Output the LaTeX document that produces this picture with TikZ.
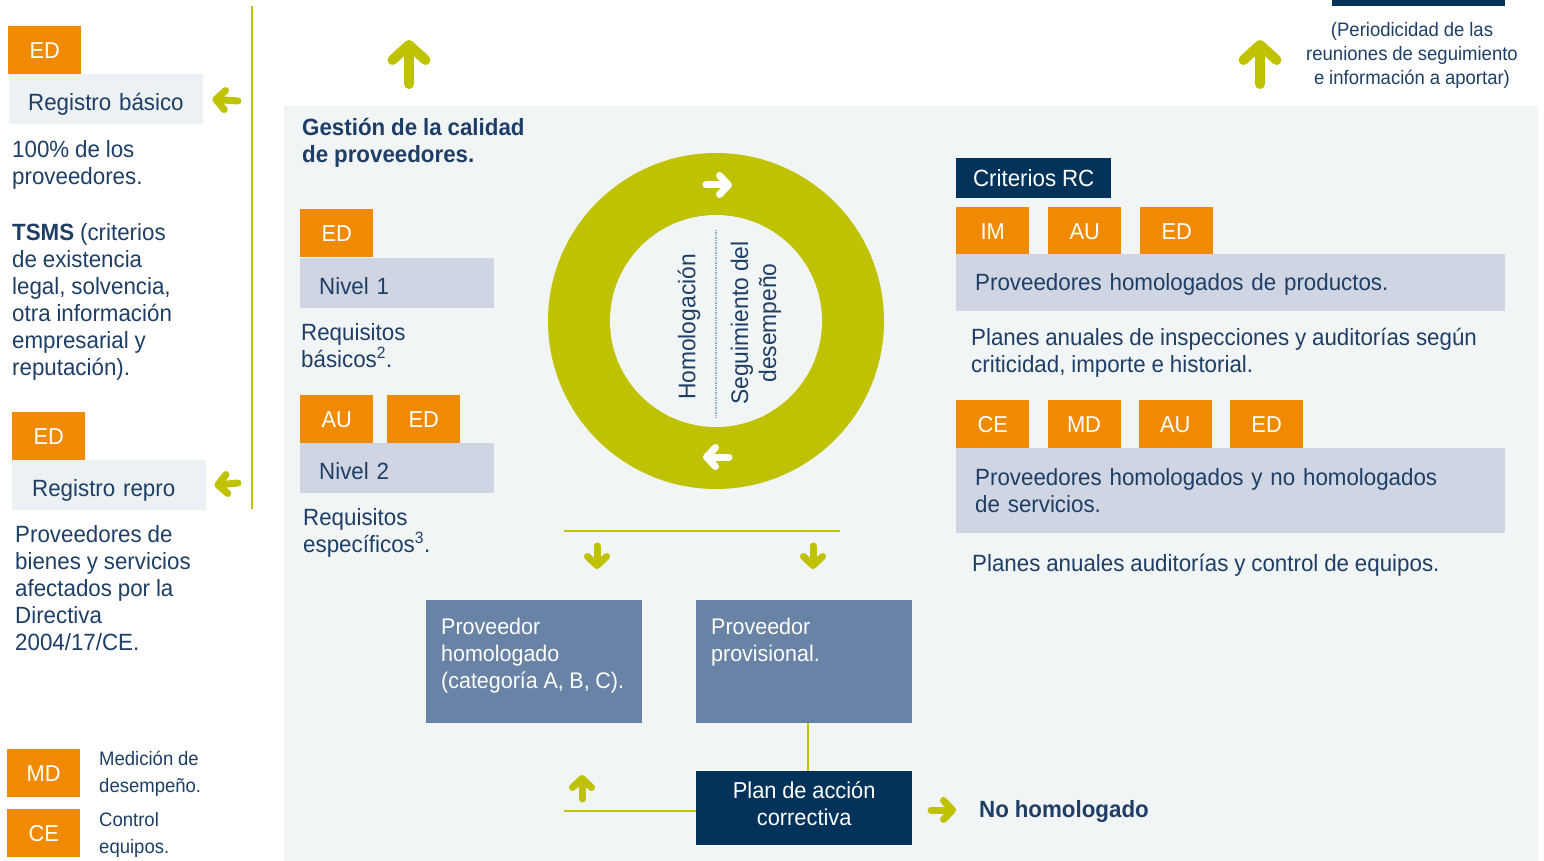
\documentclass[tikz,border=0pt]{standalone}
\usepackage{fontspec}
\setmainfont[FakeStretch=0.95,WordSpace=0.95]{Liberation Sans}
\usetikzlibrary{arrows.meta}

\definecolor{tagorange}{RGB}{240,138,0}
\definecolor{lime}{RGB}{191,194,0}
\definecolor{navy}{RGB}{0,50,90}
\definecolor{steel}{RGB}{104,131,165}
\definecolor{lilac}{RGB}{207,213,226}
\definecolor{panel}{RGB}{242,245,246}
\definecolor{pale}{RGB}{236,241,243}
\definecolor{ink}{RGB}{30,62,102}
\definecolor{dotline}{RGB}{150,175,195}

\newcommand{\fsz}[2]{\fontsize{#1}{#2}\selectfont}

\begin{document}
\begin{tikzpicture}[x=1pt,y=-1pt,
  tag/.style={fill=tagorange,text=white,anchor=north west,minimum width=73pt,
    minimum height=48pt,inner sep=0pt,font=\fsz{23}{27}},
  bar/.style={anchor=north west,minimum height=50pt,text width=#1,inner xsep=19pt,
    inner ysep=0pt,align=left,text=ink,font=\fsz{23.5}{27}},
  oneline/.style={text height=#1,text depth=0pt},
  body/.style={anchor=north west,inner sep=0pt,align=left,text=ink,font=\fsz{23.5}{27}},
  note/.style={anchor=north west,inner sep=0pt,align=left,text=ink,font=\fsz{19.5}{27}},
  steelbox/.style={fill=steel,text=white,anchor=north west,inner xsep=15pt,inner ysep=0pt,
    font=\fsz{22.6}{27}},
  bigarrow/.style={draw=lime,line width=10pt,line cap=round,
    -{Straight Barb[round,length=15pt,width=33pt]}},
  arr/.style={draw=lime,line width=7pt,line cap=round,
    -{Straight Barb[round,length=9pt,width=19pt]}},
  link/.style={draw=lime,line width=2pt}]
  \useasboundingbox (0,0) rectangle (1544,861);
  \fill[panel] (284,106) rectangle (1538,861);
  \fill[navy] (1332,0) rectangle (1505,6);

  % left column
  \draw[link] (252,6) -- (252,509);
  \node[tag] (ed1) at (8,26) {ED};
  \node[bar=156pt,oneline=22pt,fill=pale] (basico) at (9,74) {Registro básico};
  \draw[arr] (238,101) -- ([xshift=9pt]basico.east);
  \node[body] (todos) at (12,140) {100\% de los\\proveedores.};
  \node[body] (tsms) at (12,223) {\textbf{TSMS} (criterios\\de existencia\\legal, solvencia,\\otra información\\empresarial y\\reputación).};
  \node[tag] (ed2) at (12,412) {ED};
  \node[bar=154pt,oneline=22pt,fill=pale,inner xsep=20pt] (repro) at (12,460) {Registro repro};
  \draw[arr] (238,483) -- ([xshift=8pt]repro.east);
  \node[body] (directiva) at (15,525) {Proveedores de\\bienes y servicios\\afectados por la\\Directiva\\2004/17/CE.};
  \node[tag] (md) at (7,749) {MD};
  \node[note] (mdtxt) at (99,751) {Medición de\\desempeño.};
  \node[tag] (ce) at (7,809) {CE};
  \node[note] (cetxt) at (99,812) {Control\\equipos.};

  % top
  \draw[bigarrow] (409,84) -- (409,40);
  \draw[bigarrow] (1260,84) -- (1260,40);
  \node[note,anchor=north,align=center,font=\fsz{19.5}{24}] (periodo) at (1412,22)
    {(Periodicidad de las\\reuniones de seguimiento\\e información a aportar)};

  % gestion
  \node[body,font=\bfseries\fsz{23.5}{27}] (titulo) at (302,118) {Gestión de la calidad\\de proveedores.};
  \node[tag] (ed3) at (300,209) {ED};
  \node[bar=156pt,oneline=22pt,fill=lilac] (nivel1) at (300,258) {Nivel 1};
  \node[body] (req1) at (301,323) {Requisitos\\básicos\textsuperscript{2}.};
  \node[tag] (au1) at (300,395) {AU};
  \node[tag] (ed4) at (387,395) {ED};
  \node[bar=156pt,oneline=22pt,fill=lilac] (nivel2) at (300,443) {Nivel 2};
  \node[body] (req2) at (303,508) {Requisitos\\específicos\textsuperscript{3}.};

  % ciclo
  \node[circle,fill=lime,minimum size=336pt,inner sep=0pt] (ring) at (716,321) {};
  \node[circle,fill=panel,minimum size=212pt,inner sep=0pt] (core) at (716,321) {};
  \draw[dotline,densely dotted,line width=1.5pt] ([yshift=-15pt]core.north) -- ([yshift=9pt]core.south);
  \node[rotate=90,text=ink,font=\fsz{24}{28}] (homol) at (689,327) {Homologación};
  \node[rotate=90,text=ink,font=\fsz{24}{28},align=center] (segui) at (756,323) {Seguimiento del\\desempeño};
  \draw[arr,draw=white] (706,185) -- (732,185);
  \draw[arr,draw=white] (729,457) -- (703,457);

  % resultado
  \draw[link] (564,531) -- (840,531);
  \draw[arr] (597,546) -- (597,569);
  \draw[arr] (813,546) -- (813,569);
  \node[steelbox] (homologado) at (426,600)
    {\parbox[t][123pt][t]{186pt}{\vspace*{18pt}Proveedor\\homologado\\(categoría A, B, C).}};
  \node[steelbox] (prov) at (696,600)
    {\parbox[t][123pt][t]{186pt}{\vspace*{18pt}Proveedor\\provisional.}};
  \node[fill=navy,anchor=north west,minimum width=216pt,minimum height=74pt,inner sep=0pt] (plan) at (696,771) {};
  \node[anchor=north,text=white,align=center,inner sep=0pt,font=\fsz{23}{27}] (plantxt)
    at ([yshift=-10pt]plan.north) {Plan de acción\\correctiva};
  \draw[link] ([xshift=4pt]prov.south) -- ([xshift=4pt]plan.north);
  \coordinate (back) at (564,811);
  \draw[link] (back) -- (back -| plan.west);
  \draw[arr] (582,799) -- (582,775);
  \draw[arr] (931,810) -- (956,810);
  \node[anchor=base west,text=ink,font=\bfseries\fsz{23.5}{27},inner sep=0pt] (nohom) at (979,817) {No homologado};

  % criterios RC
  \node[fill=navy,text=white,anchor=north west,minimum width=155pt,minimum height=40pt,
    inner sep=0pt,font=\fsz{23.5}{27}] (rc) at (956,158) {Criterios RC};
  \foreach \lbl [count=\i] in {IM,AU,ED}
    \node[tag] (p\i) at ({956+92*(\i-1)},207) {\lbl};
  \node[bar=511pt,oneline=15pt,fill=lilac,minimum height=57pt] (prod) at (956,254) {Proveedores homologados de productos.};
  \node[body] (planes1) at (971,328) {Planes anuales de inspecciones y auditorías según\\criticidad, importe e historial.};
  \foreach \lbl [count=\i] in {CE,MD,AU,ED}
    \node[tag] (s\i) at ({956+91.3*(\i-1)},400) {\lbl};
  \node[bar=511pt,fill=lilac,minimum height=85pt] (serv) at (956,448) {Proveedores homologados y no homologados\\de servicios.};
  \node[body] (planes2) at (972,554) {Planes anuales auditorías y control de equipos.};
\end{tikzpicture}
\end{document}
